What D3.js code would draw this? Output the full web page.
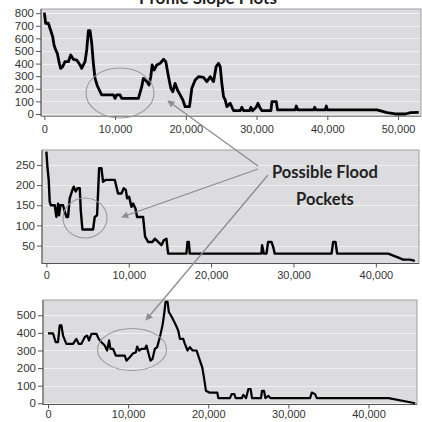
<!DOCTYPE html>
<html>
<head>
<meta charset="utf-8">
<script src="https://cdn.jsdelivr.net/npm/d3@7"></script>
<style>
body { margin: 0; background: #fff; }
svg { display: block; }
.tick text { font-family: "Liberation Sans", Arial, sans-serif; font-size: 11.5px; fill: #333; }
</style>
</head>
<body>
<svg width="422" height="422"></svg>
<script>
var WIDTH = 422;
var HEIGHT = 422;

// profile 1 (top)
var topDistance = [0,190,566,800,1180,1370,1600,1840,2120,2310,2590,2920,3400,3730,4100,4580,5050,5280,5750,5990,6230,6460,6700,6930,7170,7500,7880,8110,9760,10000,10230,10700,10940,13300,13770,14000,14480,14800,15050,15240,15520,15900,16370,16840,17170,17550,17880,18160,18490,18820,19200,19580,19910,20520,20850,21320,21790,22500,22970,23440,23920,24290,24620,24860,25090,25330,25570,25800,26270,26750,27690,27920,28160,29000,29200,29430,29950,30190,30520,30750,32030,32170,32780,32970,35470,35610,35850,38070,38210,38400,39720,39860,40000,47030,48440,49620,51040,51750,52920];
var topValue = [804,720,720,680,614,548,508,481,402,362,376,415,415,468,434,428,389,362,415,508,661,661,561,402,283,222,177,151,151,124,151,151,124,124,217,283,257,230,296,389,349,389,402,434,415,296,204,177,243,190,151,111,58,58,204,270,296,291,257,296,257,376,402,376,243,138,111,58,85,26,26,53,26,26,53,26,53,85,45,26,26,98,98,32,32,63,32,32,53,32,32,63,32,32,11,0,0,11,13];

// profile 2 (middle)
var midDistance = [0,120,280,400,530,1010,1210,1420,1540,1700,2020,2230,2430,2630,2830,3160,3320,3560,3770,4050,4170,4370,5670,5870,6150,6280,6400,6680,6880,7210,8300,8500,8700,9110,9390,9640,9800,10040,10320,10530,10810,11010,11740,11980,12350,12870,13160,13560,13970,14250,14570,14780,17000,17130,17290,17410,26110,26190,26400,26720,26920,27330,27530,27730,34620,34820,35100,35300,41500,42510,43320,44130,44740];
var midValue = [283,246,213,159,150,150,121,154,125,150,150,134,121,121,167,188,196,184,192,192,138,90,90,121,125,184,242,242,208,213,213,196,179,179,192,188,167,171,146,154,142,121,121,72,59,59,67,59,51,63,67,30,30,59,59,30,30,51,30,30,59,59,47,30,30,59,59,30,30,22,15,15,12];

// profile 3 (bottom)
var lowDistance = [0,625,960,1250,1460,1670,1875,2290,3125,3540,3830,4170,4580,4875,5125,5420,6040,6330,6670,7080,7375,7625,7790,8125,8460,9580,9790,10200,10540,10960,11125,11375,11670,12080,12290,12500,12790,13040,13330,13625,13960,14290,14500,14670,14920,15080,15330,15625,15960,16250,16460,16875,17080,17420,17710,18040,18540,18750,18960,19250,19460,19710,20125,21125,21250,22710,22920,23250,23420,24170,24375,24710,25000,25290,25460,26580,26710,26960,27125,27500,27790,32710,32920,33330,33540,42500,45830];
var lowValue = [397,397,347,347,443,443,385,338,338,366,338,338,376,385,357,395,395,366,347,328,300,357,309,309,271,271,242,261,281,290,322,300,309,309,328,290,242,252,309,319,376,443,510,576,576,519,500,475,443,414,366,366,338,300,319,300,300,271,242,204,147,71,61,61,29,29,52,52,29,29,48,29,80,80,29,29,71,71,29,42,29,29,61,52,29,29,0];

var topYTicks = [0,100,200,300,400,500,600,700,800];
var midYTicks = [50,100,150,200,250];
var lowYTicks = [0,100,200,300,400,500];
var topXTicks = [0,10000,20000,30000,40000,50000];
var midXTicks = [0,10000,20000,30000,40000];
var lowXTicks = [0,10000,20000,30000,40000];

var titleText = 'Profile Slope Plots';
var noteLines = ['Possible Flood', 'Pockets'];

var svg = d3.select('svg')
	.attr('width', WIDTH)
	.attr('height', HEIGHT);

var defs = svg.append('defs');
defs.append('marker')
	.attr('id', 'head')
	.attr('viewBox', '0 0 10 10')
	.attr('refX', 9).attr('refY', 5)
	.attr('markerWidth', 7).attr('markerHeight', 7)
	.attr('markerUnits', 'userSpaceOnUse')
	.attr('orient', 'auto')
	.append('path')
	.attr('d', 'M0,0L10,5L0,10Z')
	.attr('fill', '#8c8c8c');
defs.append('clipPath').attr('id', 'cutTop')
	.append('rect').attr('x', 0).attr('y', 0).attr('width', WIDTH).attr('height', 130);

var panels = [
	{dist: topDistance, val: topValue, xTicks: topXTicks, yTicks: topYTicks,
	 xDomain: [-470, 53240], xRange: [41, 421], yDomain: [-16, 833], yRange: [116, 9], lineWidth: 2.8, pad: 5, clip: 'cutTop'},
	{dist: midDistance, val: midValue, xTicks: midXTicks, yTicks: midYTicks,
	 xDomain: [-535, 45240], xRange: [42, 419], yDomain: [5.5, 287], yRange: [263.5, 150], lineWidth: 2.4, pad: 4},
	{dist: lowDistance, val: lowValue, xTicks: lowXTicks, yTicks: lowYTicks,
	 xDomain: [-625, 46050], xRange: [43, 417], yDomain: [-7, 587], yRange: [404.5, 300], lineWidth: 2.2, pad: 2}
];

var fmt = d3.format(',');

panels.forEach(function(p){
	var x = d3.scaleLinear().domain(p.xDomain).range(p.xRange);
	var y = d3.scaleLinear().domain(p.yDomain).range(p.yRange);
	var left = p.xRange[0], right = p.xRange[1];
	var top = p.yRange[1], bottom = p.yRange[0];

	var g = svg.append('g');
	g.append('rect')
		.attr('x', left).attr('y', top)
		.attr('width', right - left).attr('height', bottom - top)
		.attr('fill', '#dcdcde')
		.attr('stroke', '#a0a0a0');

	// gridlines
	g.append('g').selectAll('line').data(p.yTicks).enter()
		.append('line')
		.attr('x1', left + 1).attr('x2', right - 1)
		.attr('y1', function(d){ return Math.round(y(d)) + 0.5; })
		.attr('y2', function(d){ return Math.round(y(d)) + 0.5; })
		.attr('stroke', '#f0f0f0');

	var leftAxis = d3.axisLeft(y).tickValues(p.yTicks).tickSize(5).tickPadding(2);
	var ya = g.append('g').attr('transform', 'translate(' + left + ',0)').call(leftAxis);
	ya.select('.domain').attr('stroke', '#555').attr('d', 'M0,' + top + 'V' + bottom);
	ya.selectAll('.tick line').attr('stroke', '#555');

	var bottomAxis = d3.axisBottom(x).tickValues(p.xTicks).tickFormat(fmt).tickSize(4).tickPadding(p.pad);
	var xa = g.append('g').attr('transform', 'translate(0,' + bottom + ')').call(bottomAxis);
	xa.select('.domain').attr('stroke', '#555').attr('d', 'M' + left + ',0H' + right);
	xa.selectAll('.tick line').attr('stroke', '#555');
	xa.selectAll('.tick text').style('font-size', '11px');
	if (p.clip) xa.attr('clip-path', 'url(#' + p.clip + ')');

	var pts = p.dist.map(function(d, i){ return [d, p.val[i]]; });
	var line = d3.line()
		.x(function(d){ return x(d[0]); })
		.y(function(d){ return y(d[1]); });
	g.append('path')
		.datum(pts)
		.attr('d', line)
		.attr('fill', 'none')
		.attr('stroke', '#000')
		.attr('stroke-width', p.lineWidth)
		.attr('stroke-linejoin', 'round');
});

// title, mostly cut off at the top as in the source image
svg.append('text')
	.attr('x', 208).attr('y', 3.5)
	.attr('text-anchor', 'middle')
	.style('font-family', 'Lato, "Open Sans", sans-serif')
	.style('font-weight', 'bold')
	.style('font-size', '17px')
	.attr('fill', '#222')
	.text(titleText);

// flood pocket ellipses
var rings = [[120, 93, 34, 25], [85, 218, 22, 20], [132, 349.5, 34.5, 21]];
svg.append('g').selectAll('ellipse').data(rings).enter()
	.append('ellipse')
	.attr('cx', function(d){ return d[0]; })
	.attr('cy', function(d){ return d[1]; })
	.attr('rx', function(d){ return d[2]; })
	.attr('ry', function(d){ return d[3]; })
	.attr('fill', 'none')
	.attr('stroke', '#9a9a9a')
	.attr('stroke-width', 1.1);

// arrows from the note
var arrows = [[258, 166, 168, 101], [258, 169, 122, 217], [268, 175, 146, 320]];
svg.append('g').selectAll('line').data(arrows).enter()
	.append('line')
	.attr('x1', function(d){ return d[0]; })
	.attr('y1', function(d){ return d[1]; })
	.attr('x2', function(d){ return d[2]; })
	.attr('y2', function(d){ return d[3]; })
	.attr('stroke', '#8c8c8c')
	.attr('stroke-width', 1.3)
	.attr('marker-end', 'url(#head)');

svg.append('g').selectAll('text').data(noteLines).enter()
	.append('text')
	.attr('x', 325)
	.attr('y', function(d, i){ return 178 + i * 27; })
	.attr('text-anchor', 'middle')
	.style('font-family', 'Lato, "Open Sans", sans-serif')
	.style('font-weight', 'bold')
	.style('font-size', '16.5px')
	.attr('fill', '#222')
	.text(function(d){ return d; });
</script>
</body>
</html>
